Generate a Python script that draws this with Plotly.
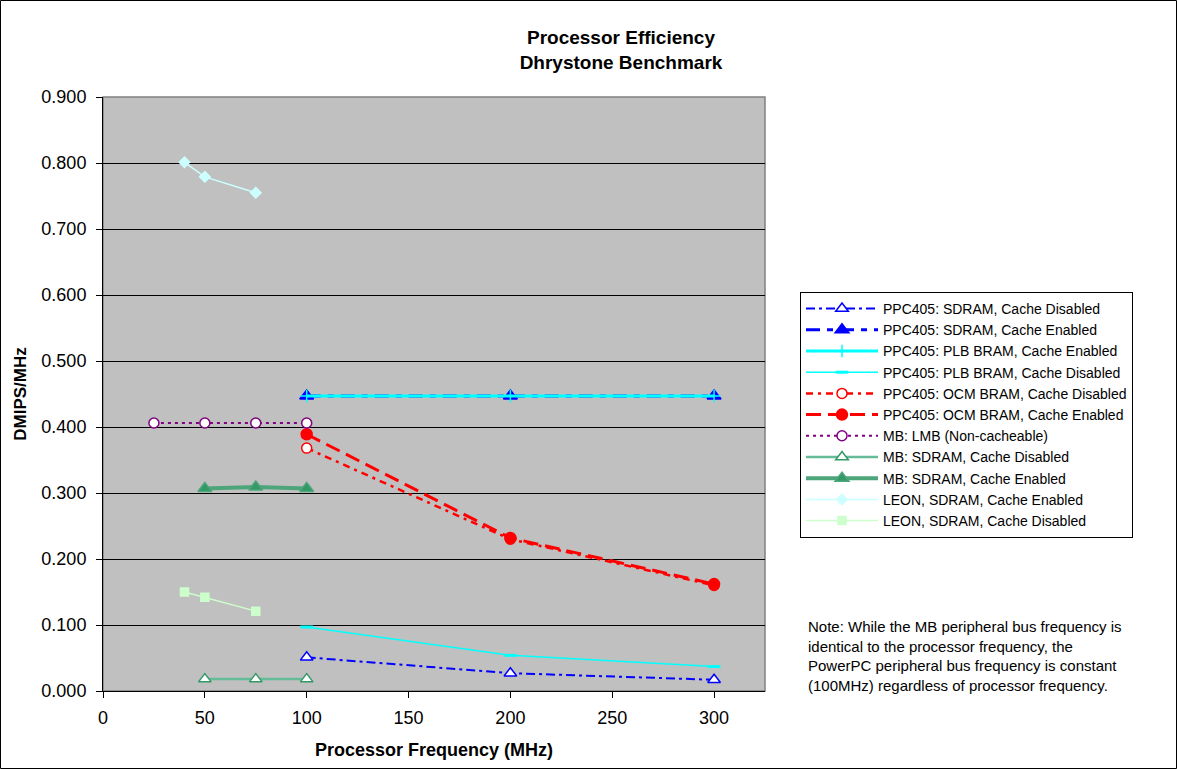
import plotly.graph_objects as go

# ---- data ----
ppc_x = [100, 200, 300]
ppc_sdram_nocache = [0.051, 0.027, 0.017]
ppc_sdram_cache = [0.447, 0.447, 0.447]
ppc_plb_cache = [0.447, 0.447, 0.447]
ppc_plb_nocache = [0.097, 0.054, 0.037]
ppc_ocm_nocache = [0.368, 0.230, 0.160]
ppc_ocm_cache = [0.389, 0.232, 0.162]

mb_lmb_x = [25, 50, 75, 100]
mb_lmb = [0.406, 0.406, 0.406, 0.406]
mb_x = [50, 75, 100]
mb_sdram_nocache = [0.018, 0.018, 0.018]
mb_sdram_cache = [0.307, 0.309, 0.307]

leon_x = [40, 50, 75]
leon_cache = [0.801, 0.779, 0.755]
leon_nocache = [0.150, 0.142, 0.121]

series_names = [
    "PPC405: SDRAM, Cache Disabled",
    "PPC405: SDRAM, Cache Enabled",
    "PPC405: PLB BRAM, Cache Enabled",
    "PPC405: PLB BRAM, Cache Disabled",
    "PPC405: OCM BRAM, Cache Disabled",
    "PPC405: OCM BRAM, Cache Enabled",
    "MB: LMB (Non-cacheable)",
    "MB: SDRAM, Cache Disabled",
    "MB: SDRAM, Cache Enabled",
    "LEON, SDRAM, Cache Enabled",
    "LEON, SDRAM, Cache Disabled",
]

y_ticks = [0.0, 0.1, 0.2, 0.3, 0.4, 0.5, 0.6, 0.7, 0.8, 0.9]
x_ticks = [0, 50, 100, 150, 200, 250, 300]

title_lines = ["Processor Efficiency", "Dhrystone Benchmark"]
x_title = "Processor Frequency (MHz)"
y_title = "DMIPS/MHz"
note_text = ("Note: While the MB peripheral bus frequency is<br>"
             "identical to the processor frequency, the<br>"
             "PowerPC peripheral bus frequency is constant<br>"
             "(100MHz) regardless of processor frequency.")

FONT = "Liberation Sans, Arial, sans-serif"

# plot-area geometry in pixels
L, R, T, B = 103, 765, 97, 691
W, H = 1177, 769
PW, PH = R - L, B - T

fig = go.Figure()

def add(x, y, name, color, width, dash, symbol, msize, mfill, mline_color=None, mline_w=1.5):
    fig.add_trace(go.Scatter(
        x=x, y=y, name=name, mode="lines+markers",
        line=dict(color=color, width=width, dash=dash),
        marker=dict(symbol=symbol, size=msize, color=mfill,
                    line=dict(color=mline_color or color, width=mline_w)),
    ))

add(ppc_x, ppc_sdram_nocache, series_names[0], "#0000FF", 2, "9px,4px,3px,4px",
    "triangle-up", 11, "#FFFFFF")
add(ppc_x, ppc_sdram_cache, series_names[1], "#0000FF", 3, "14px,7px,6px,7px",
    "triangle-up", 12, "#0000FF")
add(ppc_x, ppc_plb_cache, series_names[2], "#00FFFF", 3, "solid",
    "cross-thin", 9, "#00FFFF", None, 1.5)
add(ppc_x, ppc_plb_nocache, series_names[3], "#00FFFF", 1.5, "solid",
    "line-ew", 9, "#00FFFF", None, 3)
add(ppc_x, ppc_ocm_nocache, series_names[4], "#FF0000", 2.5, "7px,5px,3px,5px",
    "circle", 10, "#FFFFFF")
add(ppc_x, ppc_ocm_cache, series_names[5], "#FF0000", 3, "15px,7px",
    "circle", 11, "#FF0000")
add(mb_lmb_x, mb_lmb, series_names[6], "#800080", 2, "3px,4px",
    "circle", 10, "#FFFFFF")
add(mb_x, mb_sdram_nocache, series_names[7], "#66BB99", 2.5, "solid",
    "triangle-up", 11, "#FFFFFF", "#339966")
add(mb_x, mb_sdram_cache, series_names[8], "#4DA57A", 4, "solid",
    "triangle-up", 12, "#339966")
add(leon_x, leon_cache, series_names[9], "#CCFFFF", 1.5, "solid",
    "diamond", 8, "#CCFFFF")
add(leon_x, leon_nocache, series_names[10], "#CCFFCC", 1.5, "solid",
    "square", 8, "#CCFFCC")

fig.update_layout(
    width=W, height=H,
    margin=dict(l=L, r=W - R, t=T, b=H - B, autoexpand=False),
    paper_bgcolor="#FFFFFF",
    plot_bgcolor="#C0C0C0",
    font=dict(family=FONT, size=18, color="#000000"),
    showlegend=True,
    title=dict(text="<br>".join("<b>" + t + "</b>" for t in title_lines),
               x=621 / W, xanchor="center", y=1 - 44 / H, yanchor="middle",
               font=dict(family=FONT, size=19, color="#000000")),
    legend=dict(
        x=(800 - L) / PW, xanchor="left",
        y=(B - 415) / PH, yanchor="middle",
        bgcolor="#FFFFFF", bordercolor="#000000", borderwidth=1,
        font=dict(family=FONT, size=14, color="#000000"),
        itemwidth=72, tracegroupgap=0,
    ),
    xaxis=dict(
        range=[0, 325], tickvals=x_ticks, ticktext=[str(v) for v in x_ticks],
        showgrid=False, zeroline=False, showline=True, linecolor="#000000", linewidth=1,
        ticks="outside", ticklen=6, tickcolor="#000000", ticklabelstandoff=4,
        tickfont=dict(family=FONT, size=18),
        title=dict(text="<b>" + x_title + "</b>", font=dict(family=FONT, size=18), standoff=16),
        automargin=False,
    ),
    yaxis=dict(
        range=[0, 0.9], tickvals=y_ticks, ticktext=[f"{v:.3f}" for v in y_ticks],
        showgrid=True, gridcolor="#000000", gridwidth=1,
        zeroline=False, showline=True, linecolor="#000000", linewidth=1,
        ticks="outside", ticklen=6, tickcolor="#000000", ticklabelstandoff=6,
        tickfont=dict(family=FONT, size=18),
        title=dict(text="<b>" + y_title + "</b>", font=dict(family=FONT, size=17), standoff=10),
        automargin=False,
    ),
    shapes=[
        dict(type="rect", xref="paper", yref="paper", x0=0, y0=0, x1=1, y1=1,
             line=dict(color="#808080", width=1.5), layer="below"),
        dict(type="rect", xref="paper", yref="paper",
             x0=-(L - 0.5) / PW, x1=(W - 0.5 - L) / PW,
             y0=-(H - 0.5 - B) / PH, y1=1 + (T - 0.5) / PH,
             line=dict(color="#000000", width=1)),
    ],
    annotations=[
        dict(text=note_text, xref="paper", yref="paper",
             x=(806 - L) / PW, y=(B - 616) / PH, xanchor="left", yanchor="top",
             align="left", showarrow=False,
             font=dict(family=FONT, size=15, color="#000000")),
    ],
)

fig.write_html("out.html", config={"displayModeBar": False},
               post_script="document.body.style.margin='0px';")
